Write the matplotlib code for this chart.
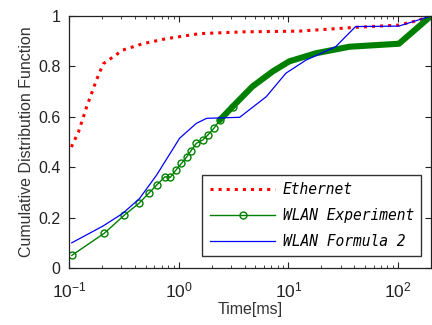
import numpy as np
import matplotlib
matplotlib.use('Agg')
import matplotlib.pyplot as plt
from matplotlib.ticker import FixedLocator, LogLocator, NullFormatter

# Dados (tempo em ms, CDF)
eth_t = [0.105, 0.122, 0.145, 0.178, 0.205, 0.31, 0.47, 0.77, 1.55, 3.85, 12.6, 41, 102, 145, 200]
eth_cdf = [0.48, 0.54, 0.64, 0.746, 0.81, 0.865, 0.89, 0.91, 0.93, 0.937, 0.94, 0.955, 0.964, 0.98, 1.0]

exp_t = [0.106, 0.21, 0.32, 0.435, 0.54, 0.63, 0.75, 0.84, 0.95, 1.06, 1.18, 1.3, 1.45, 1.66, 1.85,
         2.1, 2.37, 3.1, 4.7, 7.2, 10.2, 17.8, 36, 102, 200]
exp_cdf = [0.05, 0.138, 0.21, 0.257, 0.299, 0.329, 0.362, 0.36, 0.39, 0.415, 0.44, 0.466, 0.495, 0.508, 0.528,
           0.555, 0.587, 0.64, 0.72, 0.78, 0.82, 0.852, 0.878, 0.89, 1.0]

f2_t = [0.106, 0.205, 0.31, 0.44, 0.63, 1.02, 1.45, 1.8, 3.6, 6.3, 9.5, 14.5, 27, 41, 102, 200]
f2_cdf = [0.10, 0.167, 0.217, 0.276, 0.369, 0.515, 0.574, 0.594, 0.598, 0.68, 0.773, 0.825, 0.878, 0.958, 0.96, 1.0]

y_ticks = [0, 0.2, 0.4, 0.6, 0.8, 1.0]
y_labels = ['0', '0.2', '0.4', '0.6', '0.8', '1']

plt.rcParams['font.family'] = ['Liberation Sans', 'DejaVu Sans']

fig = plt.figure(figsize=(4.32, 3.25), dpi=100)
ax = fig.add_axes([69 / 432, 57 / 325, 362 / 432, 252 / 325])

ax.plot(eth_t, eth_cdf, color='red', linestyle=':', linewidth=2.2, label='Ethernet')

# parte densa dos marcadores aparece como uma faixa grossa
n_sparse = 16
ax.plot(exp_t[n_sparse:], exp_cdf[n_sparse:], color='green', linewidth=4.4, solid_capstyle='round')
ax.plot(exp_t, exp_cdf, color='green', linewidth=1, marker='o', markersize=5,
        markerfacecolor='none', markeredgewidth=1, markevery=list(range(n_sparse + 2)),
        label='WLAN Experiment')

ax.plot(f2_t, f2_cdf, color='blue', linewidth=0.9, label='WLAN Formula 2')

ax.set_xscale('log')
ax.set_xlim(0.1, 200)
ax.set_ylim(0, 1)
ax.yaxis.set_major_locator(FixedLocator(y_ticks))
ax.set_yticklabels(y_labels)
ax.xaxis.set_minor_locator(LogLocator(base=10, subs=np.arange(2, 10), numticks=20))
ax.xaxis.set_minor_formatter(NullFormatter())
ax.tick_params(which='both', direction='in', top=True, right=True, colors='#222222')
ax.tick_params(axis='y', labelsize=11.5, pad=6)
ax.tick_params(axis='x', labelsize=12.5, pad=9)
ax.tick_params(which='major', length=4)
ax.tick_params(which='minor', length=2.5)
for s in ax.spines.values():
    s.set_linewidth(0.9)
    s.set_color('#222222')

ax.set_xlabel('Time[ms]', fontsize=11.5, labelpad=1, color='#333333')
ax.set_ylabel('Cumulative Distribution Function', fontsize=11.5, labelpad=3, color='#333333')

leg = ax.legend(loc='lower right', bbox_to_anchor=(0.985, 0.03),
                prop={'family': 'DejaVu Sans Mono', 'style': 'italic', 'size': 10.5},
                handlelength=4.5, frameon=True, fancybox=False, edgecolor='black',
                borderpad=0.5, labelspacing=0.75, handletextpad=0.5, borderaxespad=0.3)
leg.get_frame().set_linewidth(1.0)

fig.savefig('out.png', dpi=100)
